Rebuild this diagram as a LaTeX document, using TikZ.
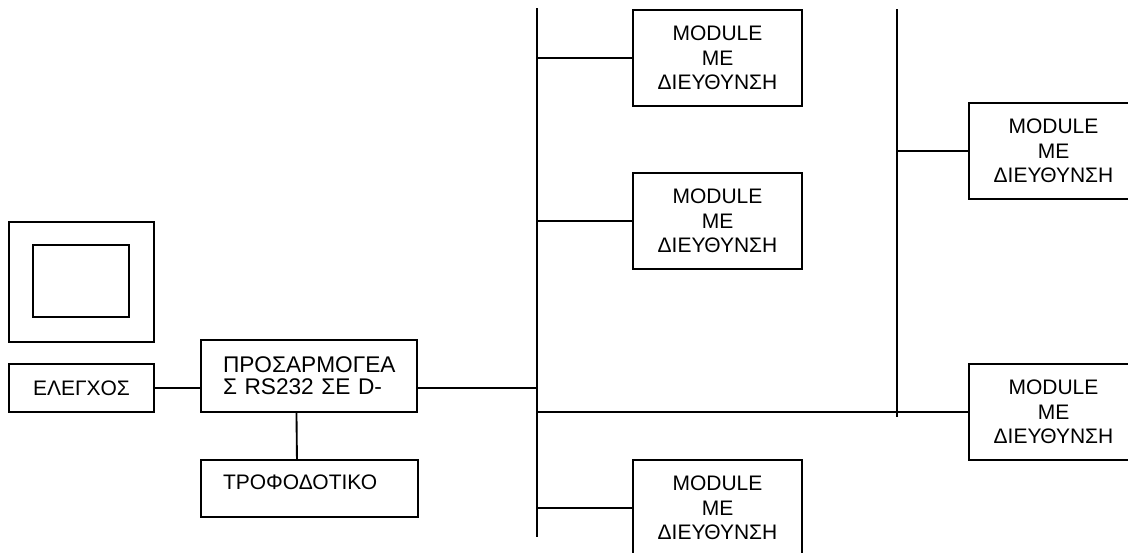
\documentclass[tikz,border=0pt]{standalone}
\usepackage{fontspec}
\setmainfont{Liberation Sans}
\begin{document}
\begin{tikzpicture}[x=0.75pt,y=-0.75pt,
  line width=1.4pt,
  box/.style={draw,line width=1.4pt,inner sep=0pt,outer sep=0pt,align=center,
    font=\fontsize{15.75}{18.2}\selectfont},
  modbox/.style={box,minimum width=126.75pt,minimum height=72pt},
  leftbox/.style={draw,line width=1.4pt,outer sep=0pt,inner ysep=0pt,inner xsep=16.5pt,
    align=left,font=\fontsize{15.75}{16.3}\selectfont}]
\useasboundingbox (0,0) rectangle (1128,553);
\clip (0,0) rectangle (1128,553);
% monitor
\node[box,minimum width=108.75pt,minimum height=90pt] (monout) at (81.5,282) {};
\node[box,minimum width=72pt,minimum height=54pt] (monin) at (81,281) {};
% control
\node[box,minimum width=108.75pt,minimum height=36pt] (ctrl) at (81.5,388) {ΕΛΕΓΧΟΣ};
% adapter
\node[leftbox,text width=129pt,minimum height=54pt,font=\fontsize{17}{16.5}\selectfont] (adapt) at (309,376) {ΠΡΟΣΑΡΜΟΓΕΑ\\Σ RS232 ΣΕ D-};
% power supply
\node[leftbox,text width=129.75pt,minimum height=42.75pt,text height=11.3pt,text depth=9.3pt] (psu) at (309.5,488.5) {ΤΡΟΦΟΔΟΤΙΚΟ};
% buses
\coordinate (b1t) at (537,8);
\coordinate (b1b) at (537,537);
\coordinate (b2t) at (897,9);
\coordinate (b2b) at (897,417);
\draw (b1t) -- (b1b);
\draw (b2t) -- (b2b);
% modules
\node[modbox] (m1) at (717.5,58) {MODULE\\ΜΕ\\ΔΙΕΥΘΥΝΣΗ};
\node[modbox] (m2) at (717.5,221) {MODULE\\ΜΕ\\ΔΙΕΥΘΥΝΣΗ};
\node[modbox] (m5) at (717.5,508) {MODULE\\ΜΕ\\ΔΙΕΥΘΥΝΣΗ};
\node[modbox] (m3) at (1053.5,151) {MODULE\\ΜΕ\\ΔΙΕΥΘΥΝΣΗ};
\node[modbox] (m4) at (1053.5,412) {MODULE\\ΜΕ\\ΔΙΕΥΘΥΝΣΗ};
% connectors
\draw (ctrl.east) -- (ctrl.east -| adapt.west);
\draw (adapt.east |- ctrl.east) -- (ctrl.east -| b1t);
\draw ([xshift=-9.4pt]adapt.south) -- ([xshift=-9.4pt]psu.north);
\draw (m1.west) -- (m1.west -| b1t);
\draw (m2.west) -- (m2.west -| b1t);
\draw (m5.west) -- (m5.west -| b1t);
\draw (m4.west) -- (m4.west -| b1t);
\draw (m3.west) -- (m3.west -| b2t);
\end{tikzpicture}
\end{document}
